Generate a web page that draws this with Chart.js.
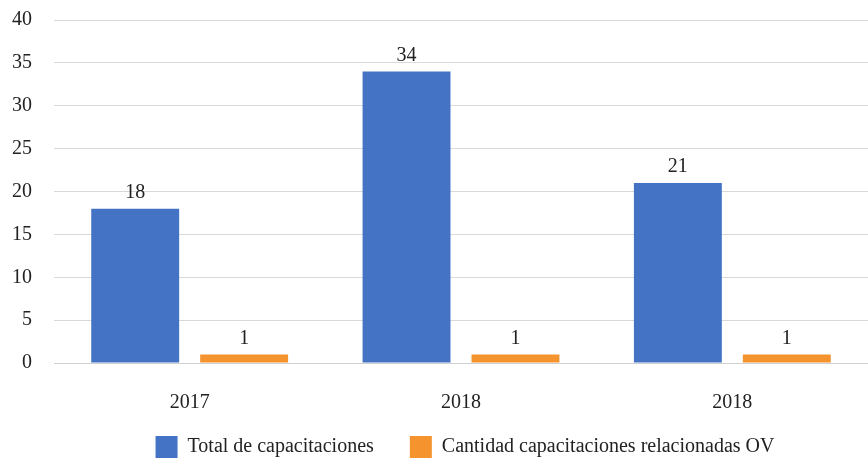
<!DOCTYPE html>
<html><head><meta charset="utf-8">
<script src="https://cdn.jsdelivr.net/npm/chart.js@4/dist/chart.umd.min.js"></script>
<style>html,body{margin:0;padding:0;background:#fff;}canvas{display:block;}</style>
</head><body>
<canvas id="c" width="868" height="461"></canvas>
<script>
const categories = ['2017', '2018', '2018'];
const totalCapacitaciones = [18, 34, 21];
const capacitacionesOV = [1, 1, 1];
const seriesNames = ['Total de capacitaciones', 'Cantidad capacitaciones relacionadas OV'];

const FONT = "'Liberation Serif', 'DejaVu Serif', serif";

const labelPlugin = {
  id: 'barLabels',
  afterLayout(chart) {
    const lg = chart.legend;
    if (lg) {
      lg.left += 31; lg.right += 31;
      const h = lg.bottom - lg.top;
      lg.top = 400; lg.bottom = 400 + h;
    }
  },
  afterDatasetsDraw(chart) {
    const ctx = chart.ctx;
    ctx.save();
    ctx.font = "20px " + FONT;
    ctx.fillStyle = '#222';
    ctx.textAlign = 'center';
    ctx.textBaseline = 'bottom';
    chart.data.datasets.forEach((ds, i) => {
      chart.getDatasetMeta(i).data.forEach((bar, j) => {
        ctx.fillText(String(ds.data[j]), bar.x, bar.y - 6);
      });
    });
    ctx.restore();
  }
};

new Chart(document.getElementById('c'), {
  type: 'bar',
  data: {
    labels: categories,
    datasets: [
      { label: seriesNames[0], data: totalCapacitaciones, backgroundColor: '#4472C4',
        categoryPercentage: 0.803, barPercentage: 0.807 },
      { label: seriesNames[1], data: capacitacionesOV, backgroundColor: '#F5932F',
        categoryPercentage: 0.803, barPercentage: 0.807 }
    ]
  },
  options: {
    responsive: false,
    animation: false,
    layout: { autoPadding: false, padding: { left: 0, right: 0, top: 20, bottom: -42 } },
    plugins: {
      legend: {
        position: 'bottom',
        labels: {
          font: { family: FONT, size: 20 },
          color: '#222',
          boxWidth: 22, boxHeight: 22,
          padding: 36
        }
      },
      tooltip: { enabled: false }
    },
    scales: {
      x: {
        grid: { display: false },
        border: { display: true, color: '#d0d0d0' },
        ticks: { font: { family: FONT, size: 20 }, color: '#222', padding: 20, maxRotation: 0 }
      },
      y: {
        min: 0, max: 40,
        ticks: { stepSize: 5, font: { family: FONT, size: 20 }, color: '#222', padding: 22 },
        grid: { color: '#d9d9d9', drawTicks: false },
        border: { display: false },
        afterFit(scale) { scale.width = 54; scale.paddingTop = 0; scale.paddingBottom = 0; }
      }
    }
  },
  plugins: [labelPlugin]
});
</script>
</body></html>
